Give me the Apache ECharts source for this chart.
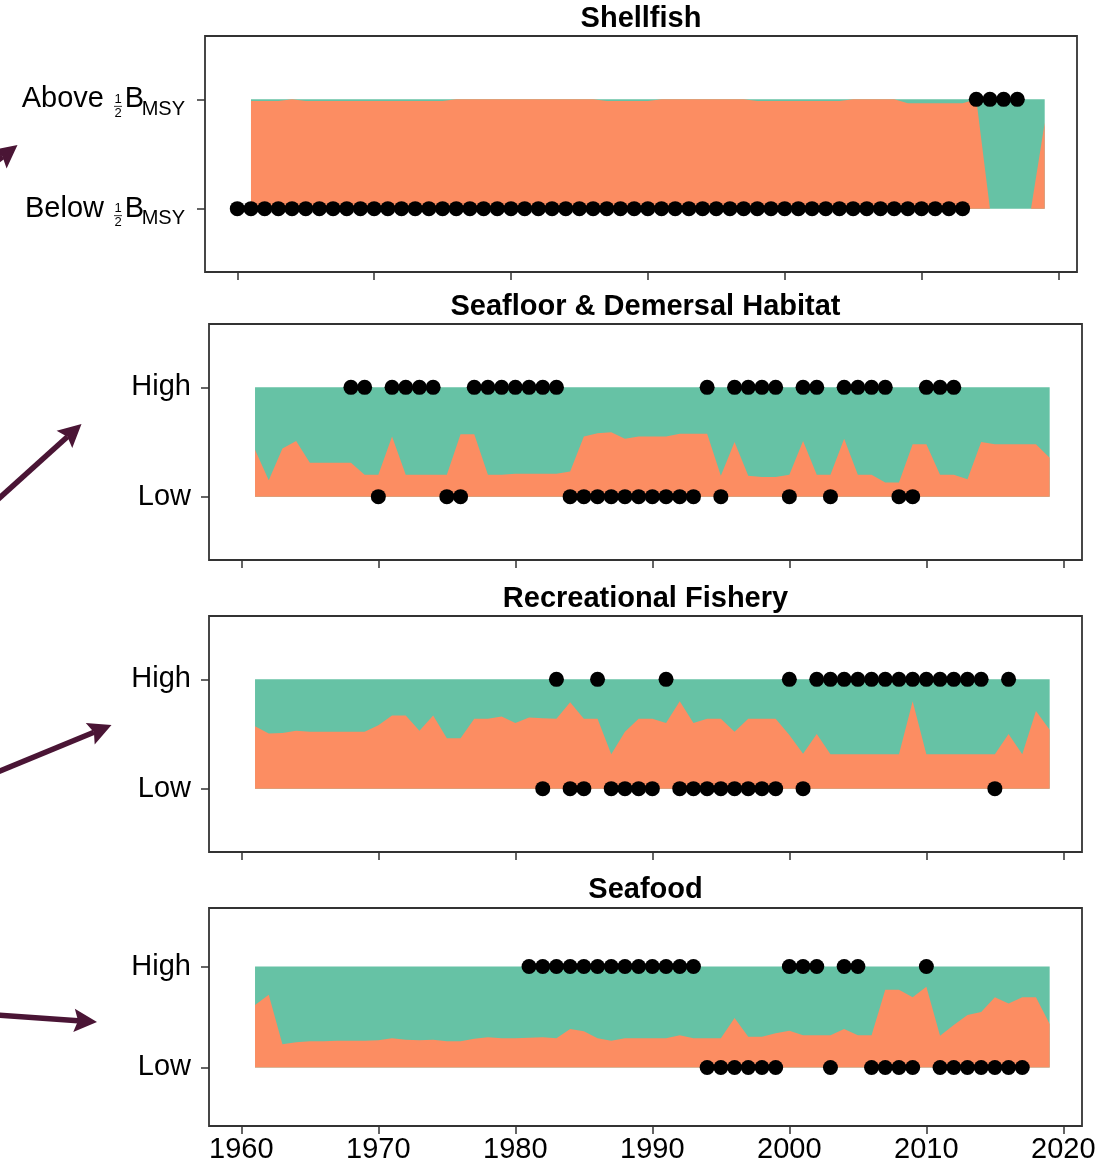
<!DOCTYPE html>
<html><head><meta charset="utf-8">
<script src="https://cdn.jsdelivr.net/npm/echarts@6/dist/echarts.min.js"></script>
<style>html,body{margin:0;padding:0;background:#fff}#c{width:1109px;height:1169px}</style>
</head><body><div id="c"></div>
<script>
// ---------------- data ----------------
const years = [1961,1962,1963,1964,1965,1966,1967,1968,1969,1970,
  1971,1972,1973,1974,1975,1976,1977,1978,1979,1980,
  1981,1982,1983,1984,1985,1986,1987,1988,1989,1990,
  1991,1992,1993,1994,1995,1996,1997,1998,1999,2000,
  2001,2002,2003,2004,2005,2006,2007,2008,2009,2010,
  2011,2012,2013,2014,2015,2016,2017,2018,2019];

const panelTitles = ['Shellfish', 'Seafloor & Demersal Habitat', 'Recreational Fishery', 'Seafood'];
const xTickLabels = [1960, 1970, 1980, 1990, 2000, 2010, 2020];
const levelValues = [0, 1];                 // 0 = Low / Below, 1 = High / Above
const levelLabels = ['Low', 'High'];
const shellfishLabels = ['Below', 'Above'];

// share of the orange (low) state per year, 0..1
const shellfishShare = [0.985,0.985,0.985,1,0.985,0.985,0.985,0.985,0.985,0.985,
  0.985,0.985,0.985,0.985,0.985,1,1,1,1,1,
  1,1,1,1,1,1,0.985,0.985,0.985,0.985,
  1,1,1,1,1,1,1,0.985,0.985,0.985,
  0.985,0.985,0.985,0.985,1,1,1,1,0.965,0.965,
  0.965,0.965,0.965,1,0,0,0,0,0.785];
const seafloorShare = [0.43,0.15,0.44,0.51,0.31,0.31,0.31,0.31,0.20,0.20,
  0.55,0.20,0.20,0.20,0.20,0.57,0.57,0.20,0.20,0.21,
  0.21,0.21,0.21,0.23,0.55,0.58,0.59,0.53,0.55,0.55,
  0.55,0.575,0.575,0.575,0.19,0.50,0.19,0.18,0.18,0.20,
  0.51,0.20,0.20,0.53,0.20,0.20,0.13,0.13,0.48,0.48,
  0.20,0.20,0.16,0.50,0.48,0.48,0.48,0.48,0.355];
const recreationalShare = [0.57,0.505,0.51,0.53,0.52,0.52,0.52,0.52,0.52,0.58,
  0.67,0.67,0.53,0.67,0.46,0.46,0.64,0.64,0.66,0.60,
  0.65,0.645,0.64,0.79,0.64,0.64,0.315,0.52,0.64,0.64,
  0.60,0.80,0.60,0.64,0.64,0.52,0.64,0.64,0.64,0.49,
  0.32,0.50,0.315,0.315,0.315,0.315,0.315,0.315,0.80,0.315,
  0.315,0.315,0.315,0.315,0.315,0.50,0.315,0.71,0.54];
const seafoodShare = [0.62,0.72,0.23,0.25,0.26,0.26,0.265,0.265,0.265,0.27,
  0.29,0.275,0.27,0.275,0.26,0.26,0.285,0.30,0.29,0.29,
  0.295,0.30,0.29,0.38,0.36,0.29,0.265,0.29,0.29,0.29,
  0.29,0.32,0.29,0.29,0.29,0.49,0.305,0.305,0.34,0.365,
  0.32,0.32,0.32,0.38,0.32,0.32,0.77,0.77,0.695,0.80,
  0.315,0.42,0.52,0.55,0.695,0.635,0.695,0.695,0.43];

// years flagged in the high / low state (dots)
const shellfishHighYears = [2014,2015,2016,2017];
const shellfishLowYears = [1960,1961,1962,1963,1964,1965,1966,1967,1968,1969,
  1970,1971,1972,1973,1974,1975,1976,1977,1978,1979,
  1980,1981,1982,1983,1984,1985,1986,1987,1988,1989,
  1990,1991,1992,1993,1994,1995,1996,1997,1998,1999,
  2000,2001,2002,2003,2004,2005,2006,2007,2008,2009,
  2010,2011,2012,2013];
const seafloorHighYears = [1968,1969,1971,1972,1973,1974,1977,1978,1979,1980,1981,1982,1983,
  1994,1996,1997,1998,1999,2001,2002,2004,2005,2006,2007,2010,2011,2012];
const seafloorLowYears = [1970,1975,1976,1984,1985,1986,1987,1988,1989,1990,1991,1992,1993,
  1995,2000,2003,2008,2009];
const recreationalHighYears = [1983,1986,1991,2000,2002,2003,2004,2005,2006,2007,2008,2009,
  2010,2011,2012,2013,2014,2016];
const recreationalLowYears = [1982,1984,1985,1987,1988,1989,1990,1992,1993,1994,1995,1996,
  1997,1998,1999,2001,2015];
const seafoodHighYears = [1981,1982,1983,1984,1985,1986,1987,1988,1989,1990,1991,1992,1993,
  2000,2001,2002,2004,2005,2010];
const seafoodLowYears = [1994,1995,1996,1997,1998,1999,2003,2006,2007,2008,2009,
  2011,2012,2013,2014,2015,2016,2017];

// ---------------- chart ----------------
const GREEN = '#66C2A5', ORANGE = '#FC8D62', ARROW = '#4A1535';
const FONT = 'Liberation Sans, Arial, sans-serif';

const panels = [
  {share: shellfishShare, high: shellfishHighYears, low: shellfishLowYears, labels: shellfishLabels, custom: true},
  {share: seafloorShare, high: seafloorHighYears, low: seafloorLowYears, labels: levelLabels},
  {share: recreationalShare, high: recreationalHighYears, low: recreationalLowYears, labels: levelLabels},
  {share: seafoodShare, high: seafoodHighYears, low: seafoodLowYears, labels: levelLabels}
];
const grids = [
  {left: 205, top: 36, width: 872, height: 236},
  {left: 209, top: 324, width: 873, height: 236},
  {left: 209, top: 616, width: 873, height: 236},
  {left: 209, top: 908, width: 873, height: 218}
];
const titleCenters = [19, 307, 599, 890];

const option = {
  animation: false,
  backgroundColor: '#fff',
  title: panelTitles.map((t, i) => ({
    text: t, left: grids[i].left + grids[i].width / 2, top: titleCenters[i] - 15,
    textAlign: 'center', padding: 0,
    textStyle: {fontFamily: FONT, fontWeight: 'bold', fontSize: 29, color: '#000'}
  })),
  grid: grids.map(g => Object.assign({show: true, borderColor: '#333', borderWidth: 1.8,
    backgroundColor: '#fff', containLabel: false}, g)),
  xAxis: grids.map((g, i) => ({
    type: 'value', gridIndex: i, min: 1957.64, max: 2021.36,
    axisLine: {show: false, onZero: false},
    splitLine: {show: false},
    axisTick: {show: true, length: 8, customValues: xTickLabels, lineStyle: {color: '#333', width: 1.5}},
    axisLabel: {show: i === 3, customValues: xTickLabels, margin: 9,
      fontFamily: FONT, fontSize: 29, color: '#000', formatter: v => String(v)}
  })),
  yAxis: grids.map((g, i) => ({
    type: 'value', gridIndex: i, min: -0.58, max: 1.58,
    axisLine: {show: false, onZero: false},
    splitLine: {show: false},
    axisTick: {show: true, length: 8, customValues: levelValues, lineStyle: {color: '#333', width: 1.5}},
    axisLabel: {
      show: !panels[i].custom, customValues: levelValues, margin: 18,
      fontFamily: FONT, fontSize: 29, color: '#000',
      formatter: v => panels[i].labels[Math.round(v)]
    }
  })),
  series: []
};

panels.forEach((p, i) => {
  option.series.push({
    type: 'line', xAxisIndex: i, yAxisIndex: i, silent: true, z: 1,
    data: [[years[0], levelValues[1]], [years[years.length - 1], levelValues[1]]],
    symbol: 'none', lineStyle: {width: 0}, areaStyle: {color: GREEN, opacity: 1, origin: 0}
  });
  option.series.push({
    type: 'line', xAxisIndex: i, yAxisIndex: i, silent: true, z: 2,
    data: years.map((y, k) => [y, p.share[k]]),
    symbol: 'none', lineStyle: {width: 0}, areaStyle: {color: ORANGE, opacity: 1, origin: 0}
  });
  option.series.push({
    type: 'scatter', xAxisIndex: i, yAxisIndex: i, silent: true, z: 3,
    data: p.high.map(y => [y, levelValues[1]]),
    symbol: 'circle', symbolSize: 15, itemStyle: {color: '#000', opacity: 1}
  });
  option.series.push({
    type: 'scatter', xAxisIndex: i, yAxisIndex: i, silent: true, z: 3,
    data: p.low.map(y => [y, levelValues[0]]),
    symbol: 'circle', symbolSize: 15, itemStyle: {color: '#000', opacity: 1}
  });
});

const chart = echarts.init(document.getElementById('c'), null, {renderer: 'canvas'});
chart.setOption(option);

// decorative arrows on the left margin
function arrow(x0, y0, x1, y1) {
  const dx = x1 - x0, dy = y1 - y0, L = Math.hypot(dx, dy);
  const ux = dx / L, uy = dy / L, px = -uy, py = ux;
  const hl = 23, hw = 11.7, notch = 4;
  const bx = x1 - ux * hl, by = y1 - uy * hl;
  return [
    {type: 'line', silent: true, z: 100,
      shape: {x1: x0, y1: y0, x2: bx + ux * notch, y2: by + uy * notch},
      style: {stroke: ARROW, lineWidth: 5.5}},
    {type: 'polygon', silent: true, z: 100,
      shape: {points: [[x1, y1], [bx + px * hw, by + py * hw], [bx + ux * notch, by + uy * notch], [bx - px * hw, by - py * hw]]},
      style: {fill: ARROW}}
  ];
}

// Shellfish axis labels: "Above ½B_MSY" / "Below ½B_MSY" with a stacked fraction
function bmsyLabel(word, axisX, y) {
  const r = axisX - 20;           // right edge of the label
  const txt = (text, x, yy, size, align) => ({
    type: 'text', silent: true, z: 50, x: x, y: yy,
    style: {text: text, fill: '#000', font: size + 'px ' + FONT, align: align, verticalAlign: 'middle'}
  });
  return [
    txt('MSY', r, y + 10, 20, 'right'),
    txt('B', r - 41, y, 29, 'right'),
    txt('1', r - 67, y, 13, 'center'),
    txt('2', r - 67, y + 14, 13, 'center'),
    {type: 'line', silent: true, z: 50, shape: {x1: r - 71, y1: y + 7, x2: r - 63, y2: y + 7},
      style: {stroke: '#000', lineWidth: 0.8}},
    txt(word, r - 81, y, 29, 'right')
  ];
}

const axisX = grids[0].left;
const yAbove = chart.convertToPixel({gridIndex: 0}, [years[0], levelValues[1]])[1];
const yBelow = chart.convertToPixel({gridIndex: 0}, [years[0], levelValues[0]])[1];

chart.setOption({
  graphic: [].concat(
    arrow(-40, 190, 17.5, 145),
    arrow(-5, 502, 81.5, 424),
    arrow(-5, 773, 111.5, 725),
    arrow(-5, 1015, 97, 1022),
    bmsyLabel(shellfishLabels[1], axisX, yAbove),
    bmsyLabel(shellfishLabels[0], axisX, yBelow)
  )
});
</script>
</body></html>
